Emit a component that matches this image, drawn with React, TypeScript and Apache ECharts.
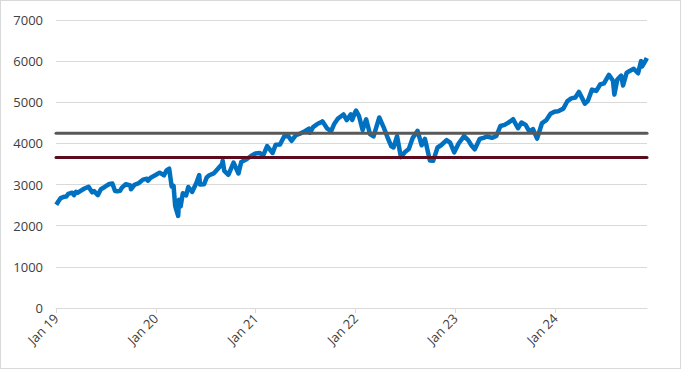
import React, { useEffect, useRef } from "react";
import * as echarts from "echarts";

const dates: string[] = [
  "2019-01-02","2019-01-10","2019-01-18","2019-02-01","2019-02-08","2019-02-15","2019-03-01","2019-03-08","2019-03-15","2019-03-22","2019-03-29","2019-04-15","2019-04-30","2019-05-13","2019-05-20","2019-06-03","2019-06-14","2019-06-28","2019-07-15","2019-07-26","2019-08-05","2019-08-14","2019-08-23","2019-08-30","2019-09-13","2019-09-30","2019-10-02","2019-10-15","2019-10-31","2019-11-15","2019-11-29","2019-12-03","2019-12-13","2019-12-31",
  "2020-01-15","2020-01-31","2020-02-10","2020-02-19","2020-02-28","2020-03-06","2020-03-12","2020-03-16","2020-03-23","2020-03-26","2020-04-01","2020-04-09","2020-04-21","2020-04-29","2020-05-13","2020-05-29","2020-06-08","2020-06-11","2020-06-26","2020-07-06","2020-07-15","2020-07-31","2020-08-14","2020-08-31","2020-09-02","2020-09-08","2020-09-23","2020-10-12","2020-10-30","2020-11-09","2020-11-30","2020-12-15","2020-12-31",
  "2021-01-15","2021-01-29","2021-02-12","2021-03-04","2021-03-15","2021-03-31","2021-04-15","2021-04-30","2021-05-12","2021-05-28","2021-06-15","2021-06-30","2021-07-15","2021-07-19","2021-07-30","2021-08-16","2021-08-31","2021-09-02","2021-09-20","2021-10-04","2021-10-15","2021-10-29","2021-11-18","2021-11-30","2021-12-15","2021-12-20","2021-12-31",
  "2022-01-03","2022-01-14","2022-01-27","2022-02-09","2022-02-23","2022-03-08","2022-03-29","2022-04-14","2022-04-29","2022-05-12","2022-05-20","2022-06-02","2022-06-16","2022-06-30","2022-07-15","2022-07-29","2022-08-16","2022-08-31","2022-09-12","2022-09-30","2022-10-12","2022-10-28","2022-11-10","2022-11-30","2022-12-13","2022-12-28",
  "2023-01-13","2023-02-02","2023-02-17","2023-03-01","2023-03-13","2023-03-31","2023-04-14","2023-04-28","2023-05-15","2023-05-31","2023-06-15","2023-06-30","2023-07-14","2023-07-31","2023-08-18","2023-08-31","2023-09-15","2023-09-29","2023-10-12","2023-10-27","2023-11-14","2023-11-30","2023-12-15","2023-12-29",
  "2024-01-12","2024-01-31","2024-02-15","2024-02-29","2024-03-15","2024-03-28","2024-04-19","2024-04-30","2024-05-15","2024-05-31","2024-06-14","2024-06-28","2024-07-16","2024-07-31","2024-08-05","2024-08-16","2024-08-30","2024-09-06","2024-09-19","2024-09-30","2024-10-15","2024-10-31","2024-11-11","2024-11-15","2024-11-29","2024-12-02"
];

const prices: number[] = [
  2510,2596,2670,2706,2708,2775,2803,2743,2822,2800,2834,2905,2945,2812,2840,2744,2886,2942,3014,3025,2844,2840,2847,2926,3007,2977,2887,2995,3037,3120,3141,3093,3168,3231,
  3289,3225,3352,3386,2954,2972,2480,2386,2237,2630,2470,2790,2737,2940,2820,3044,3232,3002,3009,3180,3227,3271,3373,3500,3580,3332,3237,3534,3270,3550,3622,3695,3756,
  3768,3714,3934,3768,3969,3973,4170,4181,4063,4204,4246,4298,4360,4258,4395,4479,4523,4537,4358,4300,4471,4605,4704,4567,4709,4568,4766,
  4796,4662,4326,4587,4225,4170,4631,4392,4132,3930,3901,4176,3667,3785,3863,4130,4305,3955,4110,3586,3577,3901,3956,4080,4019,3783,
  3999,4179,4079,3951,3855,4109,4137,4169,4136,4180,4425,4450,4505,4589,4370,4508,4450,4288,4349,4117,4496,4568,4719,4770,
  4784,4846,5030,5096,5117,5254,4967,5036,5308,5278,5432,5460,5667,5522,5186,5554,5648,5408,5713,5762,5815,5705,6001,5870,6032,6075
];

const yearTicks: number[] = [2019, 2020, 2021, 2022, 2023, 2024];
const levelUpper = 4250;
const levelLower = 3660;
const xMin = 2019;
const xMax = 2024.92;

function toFracYear(d: string): number {
  const [y, m, day] = d.split("-").map(Number);
  const start = Date.UTC(y, 0, 1);
  const end = Date.UTC(y + 1, 0, 1);
  const t = Date.UTC(y, m - 1, day);
  return y + (t - start) / (end - start);
}

export default function App() {
  const ref = useRef<HTMLDivElement>(null);
  useEffect(() => {
    document.body.style.margin = "0";
    if (!ref.current) return;
    const chart = echarts.init(ref.current, undefined, { renderer: "svg" });
    const series = dates.map((d, i) => [toFracYear(d), prices[i]]);
    const font = "'Open Sans', 'Liberation Sans', sans-serif";
    chart.setOption({
      animation: false,
      backgroundColor: "#ffffff",
      grid: { left: 55, right: 33, top: 19, bottom: 60, containLabel: false },
      xAxis: {
        type: "value",
        min: xMin,
        max: xMax,
        interval: 1,
        axisLine: { show: true, lineStyle: { color: "#d9d9d9", width: 1 } },
        axisTick: { show: true, length: 5, lineStyle: { color: "#d9d9d9" } },
        splitLine: { show: false },
        axisLabel: {
          rotate: 45,
          color: "#404040",
          fontSize: 13,
          fontFamily: font,
          margin: 8,
          showMaxLabel: false,
          formatter: (v: number) => {
            const y = Math.round(v);
            return yearTicks.includes(y) && Math.abs(v - y) < 1e-6 ? "Jan " + String(y).slice(2) : "";
          },
        },
      },
      yAxis: {
        type: "value",
        min: 0,
        max: 7000,
        interval: 1000,
        axisLine: { show: false },
        axisTick: { show: false },
        splitLine: { lineStyle: { color: "#d9d9d9", width: 1 } },
        axisLabel: {
          color: "#404040",
          fontSize: 13,
          fontFamily: font,
          margin: 13,
          formatter: (v: number) => String(v),
        },
      },
      series: [
        {
          type: "line",
          data: series,
          showSymbol: false,
          lineStyle: { color: "#0070c0", width: 4.5, join: "round" },
          z: 2,
        },
        {
          type: "line",
          data: [[xMin, levelUpper], [xMax, levelUpper]],
          showSymbol: false,
          lineStyle: { color: "#595959", width: 3, cap: "round" },
          z: 3,
        },
        {
          type: "line",
          data: [[xMin, levelLower], [xMax, levelLower]],
          showSymbol: false,
          lineStyle: { color: "#5c0a1e", width: 3, cap: "round" },
          z: 3,
        },
      ],
    });
    return () => chart.dispose();
  }, []);
  return (
    <div
      ref={ref}
      style={{ width: 681, height: 369, boxSizing: "border-box", border: "1px solid #d9d9d9" }}
    />
  );
}
